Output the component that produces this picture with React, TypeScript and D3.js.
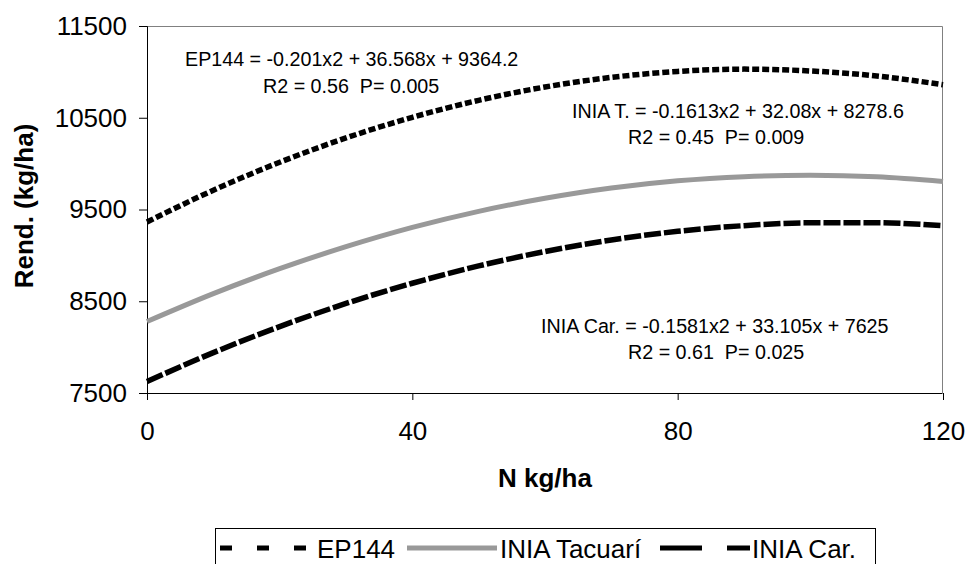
import { useRef, useEffect } from 'react'
import * as d3 from 'd3'

// N doses (kg/ha) and yields
const nDoses = [0, 10, 20, 30, 40, 50, 60, 70, 80, 90, 100, 110, 120]
const ep144 = [9364, 9710, 10015, 10280, 10505, 10690, 10835, 10940, 11005, 11030, 11010, 10955, 10860]
const iniaTacuari = [8279, 8583, 8855, 9095, 9305, 9480, 9622, 9734, 9813, 9858, 9873, 9856, 9806]
const iniaCar = [7625, 7940, 8224, 8476, 8696, 8885, 9042, 9168, 9262, 9324, 9355, 9355, 9323]

const yTicks = [7500, 8500, 9500, 10500, 11500]
const xTicks = [0, 40, 80, 120]

const seriesNames = ['EP144', 'INIA Tacuarí', 'INIA Car.']

const annotations = [
  { x: 185, y: 66, text: 'EP144 = -0.201x2 + 36.568x + 9364.2' },
  { x: 263, y: 93, text: 'R2 = 0.56  P= 0.005' },
  { x: 572, y: 118, text: 'INIA T. = -0.1613x2 + 32.08x + 8278.6' },
  { x: 628, y: 144, text: 'R2 = 0.45  P= 0.009' },
  { x: 541, y: 333, text: 'INIA Car. = -0.1581x2 + 33.105x + 7625' },
  { x: 628, y: 359, text: 'R2 = 0.61  P= 0.025' }
]

const FONT = "'Liberation Sans', Arial, sans-serif"

const App = () => {
  const ref = useRef<SVGSVGElement>(null)

  useEffect(() => {
    const totalWidth = 966,
      totalHeight = 564,
      margin = { left: 147, top: 26, right: 23, bottom: 171 },
      width = totalWidth - margin.left - margin.right,
      height = totalHeight - margin.top - margin.bottom

    const svg = d3.select(ref.current)
    svg.attr('width', totalWidth).attr('height', totalHeight)
    svg.selectAll('*').remove()

    const x = d3.scaleLinear().domain([0, 120]).range([0, width])
    const y = d3.scaleLinear().domain([7500, 11500]).range([height, 0])

    const plot = svg.append('g')
      .attr('transform', `translate(${margin.left}, ${margin.top})`)

    // plot area border (top / right)
    plot.append('path')
      .attr('d', `M0,0.5H${width - 0.5}V${height}`)
      .attr('fill', 'none')
      .attr('stroke', '#808080')
      .attr('stroke-width', 1)

    // AXES
    const yAxis = d3.axisLeft(y).tickValues(yTicks).tickSize(8).tickPadding(12)
      .tickFormat(d3.format('d'))
    const gy = plot.append('g').call(yAxis)
    gy.selectAll('text').attr('font-size', 26).attr('font-family', FONT).attr('fill', '#000')
    gy.selectAll('line').attr('stroke', '#000')
    gy.select('.domain').attr('stroke', '#000').attr('d', `M-8,${height + 0.5}H0.5V0.5H-8`)

    const xAxis = d3.axisBottom(x).tickValues(xTicks).tickSize(7).tickPadding(22)
    const gx = plot.append('g')
      .attr('transform', `translate(0, ${height})`)
      .call(xAxis)
    gx.selectAll('text').attr('font-size', 26).attr('font-family', FONT).attr('fill', '#000')
    gx.selectAll('line').attr('stroke', '#000')
    gx.select('.domain').attr('stroke', '#000').attr('d', `M0.5,0.5H${width - 0.5}`)

    // LINES
    const line = d3.line<number>()
      .x((d, i) => x(nDoses[i]))
      .y(d => y(d))
      .curve(d3.curveMonotoneX)

    const styles = [
      { data: ep144, stroke: '#000', width: 5.5, dash: '7 3' },
      { data: iniaTacuari, stroke: '#999999', width: 5, dash: null },
      { data: iniaCar, stroke: '#000', width: 5.5, dash: '17 3' }
    ]

    styles.forEach(s => {
      plot.append('path')
        .datum(s.data)
        .attr('d', line)
        .attr('fill', 'none')
        .attr('stroke', s.stroke)
        .attr('stroke-width', s.width)
        .attr('stroke-dasharray', s.dash)
    })

    // ANNOTATIONS
    svg.selectAll('text.eq')
      .data(annotations)
      .enter()
      .append('text')
        .attr('class', 'eq')
        .attr('x', d => d.x)
        .attr('y', d => d.y)
        .attr('font-size', 19.7)
        .attr('font-family', FONT)
        .style('white-space', 'pre')
        .text(d => d.text)

    // AXIS TITLES
    svg.append('text')
      .attr('x', margin.left + width / 2)
      .attr('y', 487)
      .attr('text-anchor', 'middle')
      .attr('font-size', 26)
      .attr('font-weight', 'bold')
      .attr('font-family', FONT)
      .text('N kg/ha')

    svg.append('text')
      .attr('transform', `translate(33, 206) rotate(-90)`)
      .attr('text-anchor', 'middle')
      .attr('font-size', 26)
      .attr('font-weight', 'bold')
      .attr('font-family', FONT)
      .text('Rend. (kg/ha)')

    // LEGEND
    const legend = svg.append('g')
    legend.append('rect')
      .attr('x', 215.5)
      .attr('y', 528.5)
      .attr('width', 660)
      .attr('height', 45)
      .attr('fill', '#fff')
      .attr('stroke', '#000')

    const legendItems = [
      { x0: 220, tx: 317, stroke: '#000', dash: '12 25', width: 5 },
      { x0: 407, tx: 500, stroke: '#999999', dash: null, width: 5 },
      { x0: 660, tx: 752, stroke: '#000', dash: '42 25', width: 5 }
    ]

    legendItems.forEach((d, i) => {
      legend.append('line')
        .attr('x1', d.x0)
        .attr('x2', d.x0 + 90)
        .attr('y1', 548)
        .attr('y2', 548)
        .attr('stroke', d.stroke)
        .attr('stroke-width', d.width)
        .attr('stroke-dasharray', d.dash)
      legend.append('text')
        .attr('x', d.tx)
        .attr('y', 558)
        .attr('font-size', 26)
        .attr('font-family', FONT)
        .text(seriesNames[i])
    })
  }, [])

  return (
    <svg ref={ref} style={{ position: 'absolute', left: 0, top: 0, background: '#fff' }}></svg>
  )
}

export default App
